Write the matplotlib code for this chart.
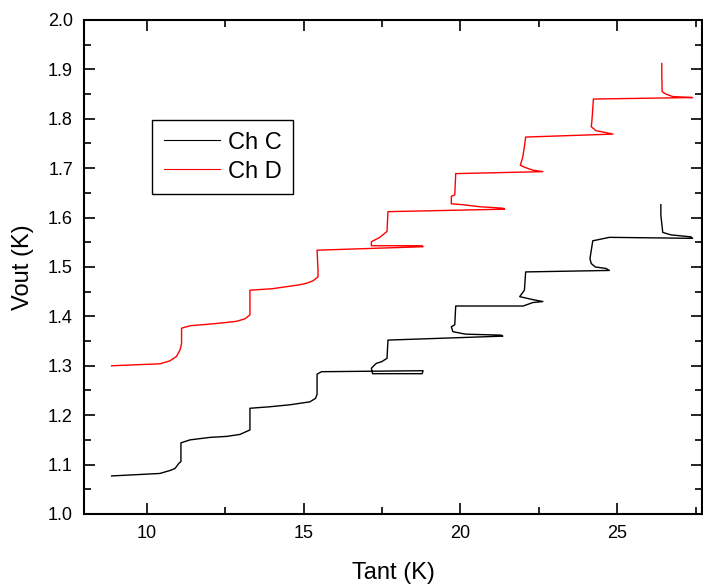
import matplotlib.pyplot as plt
from matplotlib.ticker import MultipleLocator

plt.rcParams['font.family'] = ['Liberation Sans', 'DejaVu Sans']

# Ch C (schwarz)
tant_c = [8.88, 10.42, 10.74, 10.90, 11.03, 11.09, 11.09, 11.38, 12.01, 12.54, 12.97,
          13.18, 13.29, 13.29, 13.92, 14.56, 15.20, 15.38, 15.43, 15.43, 15.57, 18.81,
          18.78, 17.20, 17.16, 17.32, 17.48, 17.66, 17.69, 21.35, 21.30, 20.18, 20.08,
          19.76, 19.71, 19.82, 19.85, 22.00, 22.31, 22.63, 22.30, 21.89, 22.04, 22.08,
          24.75, 24.64, 24.30, 24.17, 24.13, 24.22, 24.75, 27.40, 27.35, 26.71, 26.45,
          26.39, 26.39]
vout_c = [1.077, 1.082, 1.088, 1.092, 1.103, 1.106, 1.144, 1.150, 1.155, 1.157, 1.161,
          1.167, 1.170, 1.214, 1.217, 1.221, 1.227, 1.234, 1.242, 1.283, 1.288, 1.290,
          1.284, 1.284, 1.295, 1.305, 1.308, 1.315, 1.352, 1.360, 1.362, 1.364, 1.365,
          1.369, 1.379, 1.383, 1.421, 1.421, 1.428, 1.430, 1.434, 1.440, 1.453, 1.490,
          1.493, 1.497, 1.500, 1.507, 1.517, 1.553, 1.560, 1.558, 1.561, 1.565, 1.570,
          1.605, 1.626]

# Ch D (rot)
tant_d = [8.88, 10.42, 10.74, 10.95, 11.06, 11.11, 11.11, 11.38, 12.12, 12.44, 12.86,
          13.13, 13.29, 13.29, 14.00, 14.88, 15.09, 15.30, 15.46, 15.46, 15.43, 18.81,
          18.78, 17.16, 17.16, 17.43, 17.66, 17.69, 21.41, 21.35, 20.61, 20.08, 19.71,
          19.71, 19.82, 19.85, 22.63, 22.31, 22.04, 21.91, 21.99, 22.04, 22.08, 24.86,
          24.64, 24.32, 24.17, 24.19, 24.24, 27.40, 26.77, 26.55, 26.43, 26.42, 26.42]
vout_d = [1.300, 1.304, 1.310, 1.319, 1.332, 1.345, 1.376, 1.381, 1.385, 1.387, 1.390,
          1.395, 1.403, 1.453, 1.456, 1.464, 1.467, 1.472, 1.480, 1.494, 1.534, 1.541,
          1.543, 1.543, 1.551, 1.560, 1.572, 1.612, 1.617, 1.619, 1.622, 1.626, 1.628,
          1.643, 1.646, 1.689, 1.693, 1.696, 1.702, 1.706, 1.723, 1.744, 1.763, 1.769,
          1.772, 1.776, 1.784, 1.794, 1.840, 1.843, 1.845, 1.850, 1.855, 1.890, 1.912]

fig = plt.figure(figsize=(7.03, 5.88), dpi=100)
ax = fig.add_axes([0.1195, 0.1259, 0.879, 0.8401])

ax.plot(tant_c, vout_c, color='black', lw=1.0, label='Ch C')
ax.plot(tant_d, vout_d, color='red', lw=1.0, label='Ch D')

ax.set_xlim(8, 27.7)
ax.set_ylim(1.0, 2.0)
ax.xaxis.set_major_locator(MultipleLocator(5))
ax.xaxis.set_minor_locator(MultipleLocator(2.5))
ax.yaxis.set_major_locator(MultipleLocator(0.1))
ax.yaxis.set_minor_locator(MultipleLocator(0.05))
ax.tick_params(which='both', direction='in', top=True, right=True, width=1.2, labelsize=13)
ax.tick_params(which='major', length=8, pad=8)
ax.tick_params(which='minor', length=5)
for s in ax.spines.values():
    s.set_linewidth(1.5)

ax.set_xlabel('Tant (K)', fontsize=17, labelpad=14)
ax.set_ylabel('Vout (K)', fontsize=17, labelpad=10)

leg = ax.legend(loc='upper left', bbox_to_anchor=(0.110, 0.798), borderaxespad=0,
                fontsize=17, fancybox=False, framealpha=1, edgecolor='black',
                handlelength=2.4, handletextpad=0.3, labelspacing=0.3,
                borderpad=0.5)
leg.get_frame().set_linewidth(1.0)
for h in leg.get_lines():
    h.set_linewidth(0.8)

fig.savefig('out.png', dpi=100)
